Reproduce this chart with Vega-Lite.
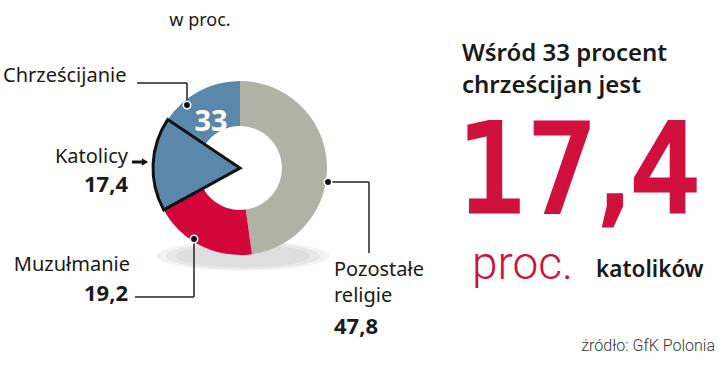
{
  "$schema": "https://vega.github.io/schema/vega-lite/v6.json",
  "width": 720,
  "height": 389,
  "autosize": {"type": "fit", "contains": "padding"},
  "padding": 0,
  "background": "white",
  "config": {
    "view": {"stroke": null},
    "locale": {"number": {"decimal": ",", "thousands": " ", "grouping": [3], "currency": ["", " zł"]}}
  },
  "datasets": {
    "religie": [
      {"grupa": "Pozostałe religie", "segment": "Pozostałe religie", "value": 47.8, "kolejnosc": 1},
      {"grupa": "Muzułmanie", "segment": "Muzułmanie", "value": 19.2, "kolejnosc": 2},
      {"grupa": "Chrześcijanie", "segment": "Katolicy", "value": 17.4, "kolejnosc": 3},
      {"grupa": "Chrześcijanie", "segment": "Pozostali chrześcijanie", "value": 15.6, "kolejnosc": 4}
    ],
    "jeden": [{}]
  },
  "data": {"name": "religie"},
  "layer": [
    {
      "data": {"name": "jeden"},
      "mark": {"type": "point", "shape": "M -1 0 A 1 0.17 0 1 0 1 0 A 1 0.17 0 1 0 -1 0 Z", "filled": true, "fill": "#8a8a8a", "strokeWidth": 0, "opacity": 0.1, "size": 30000},
      "encoding": {
        "x": {"datum": 243, "type": "quantitative", "scale": {"domain": [0, 720], "nice": false, "zero": false}, "axis": null},
        "y": {"datum": 256, "type": "quantitative", "scale": {"domain": [0, 389], "nice": false, "zero": false, "reverse": true}, "axis": null}
      }
    },
    {
      "data": {"name": "jeden"},
      "mark": {"type": "point", "shape": "M -1 0 A 1 0.17 0 1 0 1 0 A 1 0.17 0 1 0 -1 0 Z", "filled": true, "fill": "#8a8a8a", "strokeWidth": 0, "opacity": 0.1, "size": 24000},
      "encoding": {
        "x": {"datum": 243, "type": "quantitative", "scale": {"domain": [0, 720], "nice": false, "zero": false}, "axis": null},
        "y": {"datum": 256, "type": "quantitative", "scale": {"domain": [0, 389], "nice": false, "zero": false, "reverse": true}, "axis": null}
      }
    },
    {
      "data": {"name": "jeden"},
      "mark": {"type": "point", "shape": "M -1 0 A 1 0.17 0 1 0 1 0 A 1 0.17 0 1 0 -1 0 Z", "filled": true, "fill": "#8a8a8a", "strokeWidth": 0, "opacity": 0.1, "size": 18000},
      "encoding": {
        "x": {"datum": 243, "type": "quantitative", "scale": {"domain": [0, 720], "nice": false, "zero": false}, "axis": null},
        "y": {"datum": 256, "type": "quantitative", "scale": {"domain": [0, 389], "nice": false, "zero": false, "reverse": true}, "axis": null}
      }
    },
    {
      "transform": [{"stack": "value", "groupby": [], "sort": [{"field": "kolejnosc", "order": "ascending"}], "as": ["t0", "t1"]}],
      "mark": {"type": "arc", "innerRadius": 42, "outerRadius": 87},
      "encoding": {
        "theta": {"field": "t0", "type": "quantitative", "scale": {"domain": [0, 100], "range": [0, 6.283185307]}},
        "theta2": {"field": "t1"},
        "color": {"field": "grupa", "type": "nominal", "legend": null, "scale": {"domain": ["Pozostałe religie", "Muzułmanie", "Chrześcijanie"], "range": ["#b1b2a6", "#d2063b", "#5b87ab"]}},
        "x": {"datum": 240, "type": "quantitative", "scale": {"domain": [0, 720], "nice": false, "zero": false}, "axis": null},
        "y": {"datum": 168, "type": "quantitative", "scale": {"domain": [0, 389], "nice": false, "zero": false, "reverse": true}, "axis": null}
      }
    },
    {
      "transform": [
        {"stack": "value", "groupby": [], "sort": [{"field": "kolejnosc", "order": "ascending"}], "as": ["t0", "t1"]},
        {"filter": "datum.segment === 'Katolicy'"}
      ],
      "mark": {"type": "arc", "innerRadius": 0, "outerRadius": 87, "fill": "#5b87ab", "stroke": "#111111", "strokeWidth": 3, "strokeJoin": "miter"},
      "encoding": {
        "theta": {"field": "t0", "type": "quantitative", "scale": {"domain": [0, 100], "range": [0, 6.283185307]}},
        "theta2": {"field": "t1"},
        "x": {"datum": 240, "type": "quantitative", "scale": {"domain": [0, 720], "nice": false, "zero": false}, "axis": null},
        "y": {"datum": 168, "type": "quantitative", "scale": {"domain": [0, 389], "nice": false, "zero": false, "reverse": true}, "axis": null}
      }
    },
    {
      "transform": [
        {"filter": "datum.grupa === 'Chrześcijanie'"},
        {"aggregate": [{"op": "sum", "field": "value", "as": "suma"}]}
      ],
      "mark": {"type": "text", "font": "Noto Sans", "fontWeight": "bold", "fontSize": 29, "color": "white", "align": "center", "baseline": "middle"},
      "encoding": {
        "text": {"field": "suma", "type": "quantitative", "format": ".0f"},
        "x": {"datum": 211, "type": "quantitative", "scale": {"domain": [0, 720], "nice": false, "zero": false}, "axis": null},
        "y": {"datum": 122, "type": "quantitative", "scale": {"domain": [0, 389], "nice": false, "zero": false, "reverse": true}, "axis": null}
      }
    },
    {
      "data": {"name": "jeden"},
      "mark": {"type": "rule", "color": "#222222", "strokeWidth": 1.5},
      "encoding": {
        "x": {"datum": 137, "type": "quantitative", "scale": {"domain": [0, 720], "nice": false, "zero": false}, "axis": null},
        "x2": {"datum": 187},
        "y": {"datum": 83, "type": "quantitative", "scale": {"domain": [0, 389], "nice": false, "zero": false, "reverse": true}, "axis": null},
        "y2": {"datum": 83}
      }
    },
    {
      "data": {"name": "jeden"},
      "mark": {"type": "rule", "color": "#222222", "strokeWidth": 1.5},
      "encoding": {
        "x": {"datum": 187, "type": "quantitative", "scale": {"domain": [0, 720], "nice": false, "zero": false}, "axis": null},
        "x2": {"datum": 187},
        "y": {"datum": 83, "type": "quantitative", "scale": {"domain": [0, 389], "nice": false, "zero": false, "reverse": true}, "axis": null},
        "y2": {"datum": 105}
      }
    },
    {
      "data": {"name": "jeden"},
      "mark": {"type": "rule", "color": "#222222", "strokeWidth": 1.5},
      "encoding": {
        "x": {"datum": 135, "type": "quantitative", "scale": {"domain": [0, 720], "nice": false, "zero": false}, "axis": null},
        "x2": {"datum": 194},
        "y": {"datum": 297, "type": "quantitative", "scale": {"domain": [0, 389], "nice": false, "zero": false, "reverse": true}, "axis": null},
        "y2": {"datum": 297}
      }
    },
    {
      "data": {"name": "jeden"},
      "mark": {"type": "rule", "color": "#222222", "strokeWidth": 1.5},
      "encoding": {
        "x": {"datum": 194, "type": "quantitative", "scale": {"domain": [0, 720], "nice": false, "zero": false}, "axis": null},
        "x2": {"datum": 194},
        "y": {"datum": 239, "type": "quantitative", "scale": {"domain": [0, 389], "nice": false, "zero": false, "reverse": true}, "axis": null},
        "y2": {"datum": 297}
      }
    },
    {
      "data": {"name": "jeden"},
      "mark": {"type": "rule", "color": "#222222", "strokeWidth": 1.5},
      "encoding": {
        "x": {"datum": 328, "type": "quantitative", "scale": {"domain": [0, 720], "nice": false, "zero": false}, "axis": null},
        "x2": {"datum": 369},
        "y": {"datum": 182, "type": "quantitative", "scale": {"domain": [0, 389], "nice": false, "zero": false, "reverse": true}, "axis": null},
        "y2": {"datum": 182}
      }
    },
    {
      "data": {"name": "jeden"},
      "mark": {"type": "rule", "color": "#222222", "strokeWidth": 1.5},
      "encoding": {
        "x": {"datum": 369, "type": "quantitative", "scale": {"domain": [0, 720], "nice": false, "zero": false}, "axis": null},
        "x2": {"datum": 369},
        "y": {"datum": 182, "type": "quantitative", "scale": {"domain": [0, 389], "nice": false, "zero": false, "reverse": true}, "axis": null},
        "y2": {"datum": 253}
      }
    },
    {
      "data": {"name": "jeden"},
      "mark": {"type": "point", "filled": true, "fill": "#111111", "stroke": "white", "strokeWidth": 1.5, "opacity": 1, "size": 55},
      "encoding": {
        "x": {"datum": 187, "type": "quantitative", "scale": {"domain": [0, 720], "nice": false, "zero": false}, "axis": null},
        "y": {"datum": 105, "type": "quantitative", "scale": {"domain": [0, 389], "nice": false, "zero": false, "reverse": true}, "axis": null}
      }
    },
    {
      "data": {"name": "jeden"},
      "mark": {"type": "point", "filled": true, "fill": "#111111", "stroke": "white", "strokeWidth": 1.5, "opacity": 1, "size": 55},
      "encoding": {
        "x": {"datum": 194, "type": "quantitative", "scale": {"domain": [0, 720], "nice": false, "zero": false}, "axis": null},
        "y": {"datum": 239, "type": "quantitative", "scale": {"domain": [0, 389], "nice": false, "zero": false, "reverse": true}, "axis": null}
      }
    },
    {
      "data": {"name": "jeden"},
      "mark": {"type": "point", "filled": true, "fill": "#111111", "stroke": "white", "strokeWidth": 1.5, "opacity": 1, "size": 55},
      "encoding": {
        "x": {"datum": 328, "type": "quantitative", "scale": {"domain": [0, 720], "nice": false, "zero": false}, "axis": null},
        "y": {"datum": 182, "type": "quantitative", "scale": {"domain": [0, 389], "nice": false, "zero": false, "reverse": true}, "axis": null}
      }
    },
    {
      "data": {"name": "jeden"},
      "mark": {"type": "rule", "color": "#111111", "strokeWidth": 3},
      "encoding": {
        "x": {"datum": 132, "type": "quantitative", "scale": {"domain": [0, 720], "nice": false, "zero": false}, "axis": null},
        "x2": {"datum": 142},
        "y": {"datum": 162, "type": "quantitative", "scale": {"domain": [0, 389], "nice": false, "zero": false, "reverse": true}, "axis": null},
        "y2": {"datum": 162}
      }
    },
    {
      "data": {"name": "jeden"},
      "mark": {"type": "point", "shape": "triangle-right", "filled": true, "fill": "#111111", "opacity": 1, "size": 55},
      "encoding": {
        "x": {"datum": 145, "type": "quantitative", "scale": {"domain": [0, 720], "nice": false, "zero": false}, "axis": null},
        "y": {"datum": 162, "type": "quantitative", "scale": {"domain": [0, 389], "nice": false, "zero": false, "reverse": true}, "axis": null}
      }
    },
    {
      "data": {"name": "jeden"},
      "mark": {"type": "text", "text": "w proc.", "font": "Noto Sans", "fontSize": 18, "color": "#1a1a1a", "align": "center", "baseline": "middle"},
      "encoding": {
        "x": {"datum": 200, "type": "quantitative", "scale": {"domain": [0, 720], "nice": false, "zero": false}, "axis": null},
        "y": {"datum": 21, "type": "quantitative", "scale": {"domain": [0, 389], "nice": false, "zero": false, "reverse": true}, "axis": null}
      }
    },
    {
      "data": {"name": "jeden"},
      "mark": {"type": "text", "text": "Chrześcijanie", "font": "Noto Sans", "fontSize": 20, "color": "#1a1a1a", "align": "left", "baseline": "middle"},
      "encoding": {
        "x": {"datum": 3, "type": "quantitative", "scale": {"domain": [0, 720], "nice": false, "zero": false}, "axis": null},
        "y": {"datum": 76, "type": "quantitative", "scale": {"domain": [0, 389], "nice": false, "zero": false, "reverse": true}, "axis": null}
      }
    },
    {
      "data": {"name": "jeden"},
      "mark": {"type": "text", "text": "Katolicy", "font": "Noto Sans", "fontSize": 20, "color": "#1a1a1a", "align": "right", "baseline": "middle"},
      "encoding": {
        "x": {"datum": 128, "type": "quantitative", "scale": {"domain": [0, 720], "nice": false, "zero": false}, "axis": null},
        "y": {"datum": 157, "type": "quantitative", "scale": {"domain": [0, 389], "nice": false, "zero": false, "reverse": true}, "axis": null}
      }
    },
    {
      "transform": [{"filter": "datum.segment === 'Katolicy'"}],
      "mark": {"type": "text", "font": "Noto Sans", "fontWeight": "bold", "fontSize": 22, "color": "#1a1a1a", "align": "right", "baseline": "middle"},
      "encoding": {
        "text": {"field": "value", "type": "quantitative", "format": ".1f"},
        "x": {"datum": 128, "type": "quantitative", "scale": {"domain": [0, 720], "nice": false, "zero": false}, "axis": null},
        "y": {"datum": 185, "type": "quantitative", "scale": {"domain": [0, 389], "nice": false, "zero": false, "reverse": true}, "axis": null}
      }
    },
    {
      "data": {"name": "jeden"},
      "mark": {"type": "text", "text": "Muzułmanie", "font": "Noto Sans", "fontSize": 20, "color": "#1a1a1a", "align": "right", "baseline": "middle"},
      "encoding": {
        "x": {"datum": 130, "type": "quantitative", "scale": {"domain": [0, 720], "nice": false, "zero": false}, "axis": null},
        "y": {"datum": 265, "type": "quantitative", "scale": {"domain": [0, 389], "nice": false, "zero": false, "reverse": true}, "axis": null}
      }
    },
    {
      "transform": [{"filter": "datum.segment === 'Muzułmanie'"}],
      "mark": {"type": "text", "font": "Noto Sans", "fontWeight": "bold", "fontSize": 22, "color": "#1a1a1a", "align": "right", "baseline": "middle"},
      "encoding": {
        "text": {"field": "value", "type": "quantitative", "format": ".1f"},
        "x": {"datum": 128, "type": "quantitative", "scale": {"domain": [0, 720], "nice": false, "zero": false}, "axis": null},
        "y": {"datum": 294, "type": "quantitative", "scale": {"domain": [0, 389], "nice": false, "zero": false, "reverse": true}, "axis": null}
      }
    },
    {
      "data": {"name": "jeden"},
      "mark": {"type": "text", "text": "Pozostałe", "font": "Noto Sans", "fontSize": 20, "color": "#1a1a1a", "align": "left", "baseline": "middle"},
      "encoding": {
        "x": {"datum": 334, "type": "quantitative", "scale": {"domain": [0, 720], "nice": false, "zero": false}, "axis": null},
        "y": {"datum": 270, "type": "quantitative", "scale": {"domain": [0, 389], "nice": false, "zero": false, "reverse": true}, "axis": null}
      }
    },
    {
      "data": {"name": "jeden"},
      "mark": {"type": "text", "text": "religie", "font": "Noto Sans", "fontSize": 20, "color": "#1a1a1a", "align": "left", "baseline": "middle"},
      "encoding": {
        "x": {"datum": 334, "type": "quantitative", "scale": {"domain": [0, 720], "nice": false, "zero": false}, "axis": null},
        "y": {"datum": 296, "type": "quantitative", "scale": {"domain": [0, 389], "nice": false, "zero": false, "reverse": true}, "axis": null}
      }
    },
    {
      "transform": [{"filter": "datum.segment === 'Pozostałe religie'"}],
      "mark": {"type": "text", "font": "Noto Sans", "fontWeight": "bold", "fontSize": 22, "color": "#1a1a1a", "align": "left", "baseline": "middle"},
      "encoding": {
        "text": {"field": "value", "type": "quantitative", "format": ".1f"},
        "x": {"datum": 334, "type": "quantitative", "scale": {"domain": [0, 720], "nice": false, "zero": false}, "axis": null},
        "y": {"datum": 327, "type": "quantitative", "scale": {"domain": [0, 389], "nice": false, "zero": false, "reverse": true}, "axis": null}
      }
    },
    {
      "data": {"name": "jeden"},
      "mark": {"type": "text", "text": "Wśród 33 procent", "font": "Noto Sans", "fontWeight": 600, "fontSize": 24, "color": "#1a1a1a", "align": "left", "baseline": "alphabetic"},
      "encoding": {
        "x": {"datum": 462, "type": "quantitative", "scale": {"domain": [0, 720], "nice": false, "zero": false}, "axis": null},
        "y": {"datum": 61, "type": "quantitative", "scale": {"domain": [0, 389], "nice": false, "zero": false, "reverse": true}, "axis": null}
      }
    },
    {
      "data": {"name": "jeden"},
      "mark": {"type": "text", "text": "chrześcijan jest", "font": "Noto Sans", "fontWeight": 600, "fontSize": 24, "color": "#1a1a1a", "align": "left", "baseline": "alphabetic"},
      "encoding": {
        "x": {"datum": 462, "type": "quantitative", "scale": {"domain": [0, 720], "nice": false, "zero": false}, "axis": null},
        "y": {"datum": 93, "type": "quantitative", "scale": {"domain": [0, 389], "nice": false, "zero": false, "reverse": true}, "axis": null}
      }
    },
    {
      "transform": [{"filter": "datum.segment === 'Katolicy'"}],
      "mark": {"type": "text", "font": "DejaVu Sans Condensed", "fontSize": 121, "color": "#d0103d", "stroke": "#d0103d", "strokeWidth": 5, "strokeJoin": "miter", "align": "left", "baseline": "alphabetic"},
      "encoding": {
        "text": {"field": "value", "type": "quantitative", "format": ".1f"},
        "x": {"datum": 458, "type": "quantitative", "scale": {"domain": [0, 720], "nice": false, "zero": false}, "axis": null},
        "y": {"datum": 211, "type": "quantitative", "scale": {"domain": [0, 389], "nice": false, "zero": false, "reverse": true}, "axis": null}
      }
    },
    {
      "data": {"name": "jeden"},
      "mark": {"type": "text", "text": "proc.", "font": "Roboto", "fontWeight": 300, "fontSize": 46, "color": "#d0103d", "align": "left", "baseline": "alphabetic"},
      "encoding": {
        "x": {"datum": 472, "type": "quantitative", "scale": {"domain": [0, 720], "nice": false, "zero": false}, "axis": null},
        "y": {"datum": 279, "type": "quantitative", "scale": {"domain": [0, 389], "nice": false, "zero": false, "reverse": true}, "axis": null}
      }
    },
    {
      "data": {"name": "jeden"},
      "mark": {"type": "text", "text": "katolików", "font": "Noto Sans", "fontWeight": 600, "fontSize": 22.5, "color": "#1a1a1a", "align": "left", "baseline": "alphabetic"},
      "encoding": {
        "x": {"datum": 596, "type": "quantitative", "scale": {"domain": [0, 720], "nice": false, "zero": false}, "axis": null},
        "y": {"datum": 277, "type": "quantitative", "scale": {"domain": [0, 389], "nice": false, "zero": false, "reverse": true}, "axis": null}
      }
    },
    {
      "data": {"name": "jeden"},
      "mark": {"type": "text", "text": "źródło: GfK Polonia", "font": "Roboto", "fontWeight": 300, "fontSize": 16, "color": "#333333", "align": "right", "baseline": "middle"},
      "encoding": {
        "x": {"datum": 715, "type": "quantitative", "scale": {"domain": [0, 720], "nice": false, "zero": false}, "axis": null},
        "y": {"datum": 346, "type": "quantitative", "scale": {"domain": [0, 389], "nice": false, "zero": false, "reverse": true}, "axis": null}
      }
    }
  ]
}
